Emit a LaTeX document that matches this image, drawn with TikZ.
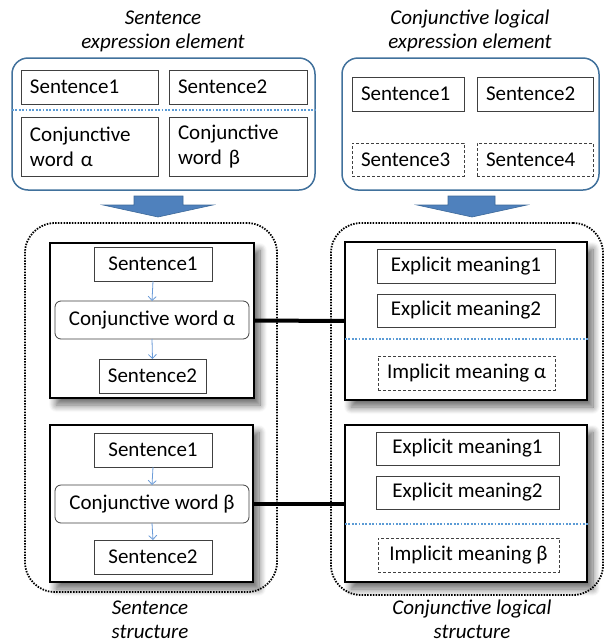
\documentclass[tikz,border=0pt]{standalone}
\usepackage{fontspec}
\setmainfont{Carlito}
\usetikzlibrary{shadows.blur,arrows.meta}
\definecolor{frameblue}{HTML}{41719C}
\definecolor{arrowblue}{HTML}{4F81BD}
\definecolor{arrowedge}{HTML}{3C6899}
\definecolor{dotblue}{HTML}{5B9BD5}
\definecolor{smallblue}{HTML}{6A9BD8}
\begin{document}
\begin{tikzpicture}[x=1pt,y=-1pt,
  every node/.style={inner sep=0pt,outer sep=0pt,font=\fontsize{21}{25}\selectfont},
  tbox/.style={draw=black!75,line width=0.8pt,minimum width=#1},
  dbox/.style={draw=black!75,line width=0.8pt,dash pattern=on 3pt off 2pt,minimum width=#1},
  lbox/.style={draw=black!75,line width=0.8pt,minimum width=#1,text width=#1-18pt,align=left},
  ldbox/.style={draw=black!75,line width=0.8pt,dash pattern=on 3pt off 2pt,minimum width=#1,text width=#1-18pt,align=left},
  rbox/.style={draw=black!75,line width=0.8pt,rounded corners=6pt,minimum width=#1},
  bluegroup/.style={draw=frameblue,line width=1.5pt,rounded corners=16pt},
  dotgroup/.style={draw=black,line width=1.8pt,dash pattern=on 1.5pt off 1.3pt,rounded corners=30pt},
  inner/.style={draw=black,line width=2.5pt,fill=white,
    blur shadow={shadow xshift=6pt,shadow yshift=-7pt,shadow blur steps=10,shadow blur radius=7pt,shadow opacity=60}},
  title/.style={font=\fontsize{21}{25}\selectfont\itshape},
  bluedots/.style={draw=dotblue,line width=2pt,dash pattern=on 1.8pt off 1.6pt},
  small/.style={draw=smallblue,line width=0.8pt,-{Straight Barb[length=4pt,width=8pt]}},
  link/.style={draw=black,line width=4pt},
  blockarrow/.style={fill=arrowblue,draw=arrowedge,line width=0.6pt}
]
\useasboundingbox (0,0) rectangle (603,643);

% ---------- top titles ----------
\node[title] (tl1) at (163,18) {Sentence};
\node[title] (tl2) at (163,43) {expression element};
\node[title] (tr1) at (470,19) {Conjunctive logical};
\node[title] (tr2) at (470,43) {expression element};

% ---------- top-left group ----------
\node[bluegroup,minimum width=303pt,minimum height=132pt] (tlg) at (163.5,124) {};
\node[lbox=137pt,minimum height=34pt] (sa1) at (89.5,87) {Sentence1};
\node[lbox=138pt,minimum height=34pt] (sa2) at (238,87) {Sentence2};
\draw[bluedots] (12,110) -- (317,110);
\node[lbox=137pt,minimum height=59pt,font=\fontsize{21}{25}\selectfont] (cwa) at (89.5,146.5) {Conjunctive\\word α};
\node[lbox=138pt,minimum height=59pt,font=\fontsize{21}{25}\selectfont] (cwb) at (238,146.5) {Conjunctive\\word β};

% ---------- top-right group ----------
\node[bluegroup,minimum width=257pt,minimum height=132pt] (trg) at (470.5,124) {};
\node[lbox=112pt,minimum height=34pt] (sb1) at (408,94) {Sentence1};
\node[lbox=116pt,minimum height=34pt] (sb2) at (535,94) {Sentence2};
\node[ldbox=112pt,minimum height=33pt] (sb3) at (408,159.5) {Sentence3};
\node[ldbox=116pt,minimum height=33pt] (sb4) at (535,159.5) {Sentence4};

% ---------- block arrows ----------
\draw[blockarrow] (134,196) -- (183,196) -- (183,205) -- (213,205) -- (158,217)
  -- (103,205) -- (134,205) -- cycle;
\draw[blockarrow] (448,196) -- (495,196) -- (495,205) -- (527,205) -- (472,217)
  -- (417,205) -- (448,205) -- cycle;

% ---------- bottom dotted groups ----------
\node[dotgroup,minimum width=252pt,minimum height=369pt] (lg) at (151,407.5) {};
\node[dotgroup,minimum width=272pt,minimum height=372pt] (rg) at (467,409) {};

% ---------- left structures ----------
\node[inner,minimum width=204pt,minimum height=155pt] (ib1) at (152,320.5) {};
\node[tbox=118pt,minimum height=34pt] (l1s1) at (153,264) {Sentence1};
\node[rbox=194pt,minimum height=38pt] (l1cw) at (152,320) {Conjunctive word α};
\node[tbox=107pt,minimum height=34pt] (l1s2) at (152.5,376) {Sentence2};
\draw[small] (l1s1.south) -- (l1cw.north);
\draw[small] (l1cw.south) -- (l1s2.north);

\node[inner,minimum width=203pt,minimum height=157pt] (ib2) at (151.5,503.5) {};
\node[tbox=118pt,minimum height=34pt] (l2s1) at (153,450) {Sentence1};
\node[rbox=194pt,minimum height=38pt] (l2cw) at (152,504) {Conjunctive word β};
\node[tbox=118pt,minimum height=34pt] (l2s2) at (153,557) {Sentence2};
\draw[small] (l2s1.south) -- (l2cw.north);
\draw[small] (l2cw.south) -- (l2s2.north);

% ---------- right structures ----------
\node[inner,minimum width=242pt,minimum height=158pt] (ir1) at (466,321) {};
\node[tbox=178pt,minimum height=34pt] (r1e1) at (466,266) {Explicit meaning1};
\node[tbox=178pt,minimum height=33pt] (r1e2) at (466,310.5) {Explicit meaning2};
\draw[bluedots] (345,339) -- (589,339);
\node[dbox=177pt,minimum height=34pt] (r1im) at (466.5,373) {Implicit meaning α};

\node[inner,minimum width=242pt,minimum height=157pt] (ir2) at (466,503.5) {};
\node[tbox=183pt,minimum height=33pt] (r2e1) at (467.5,448.5) {Explicit meaning1};
\node[tbox=183pt,minimum height=33pt] (r2e2) at (467.5,492.5) {Explicit meaning2};
\draw[bluedots] (345,524) -- (589,524);
\node[dbox=181pt,minimum height=34pt] (r2im) at (468.5,555) {Implicit meaning β};

% ---------- links ----------
\draw[link] (ib1.east) -- (ir1.west);
\draw[link] (ib2.east) -- (ir2.west);

% ---------- bottom titles ----------
\node[title] (bl1) at (150,608) {Sentence};
\node[title] (bl2) at (150,632) {structure};
\node[title] (br1) at (472,609) {Conjunctive logical};
\node[title] (br2) at (472,632) {structure};
\end{tikzpicture}
\end{document}
